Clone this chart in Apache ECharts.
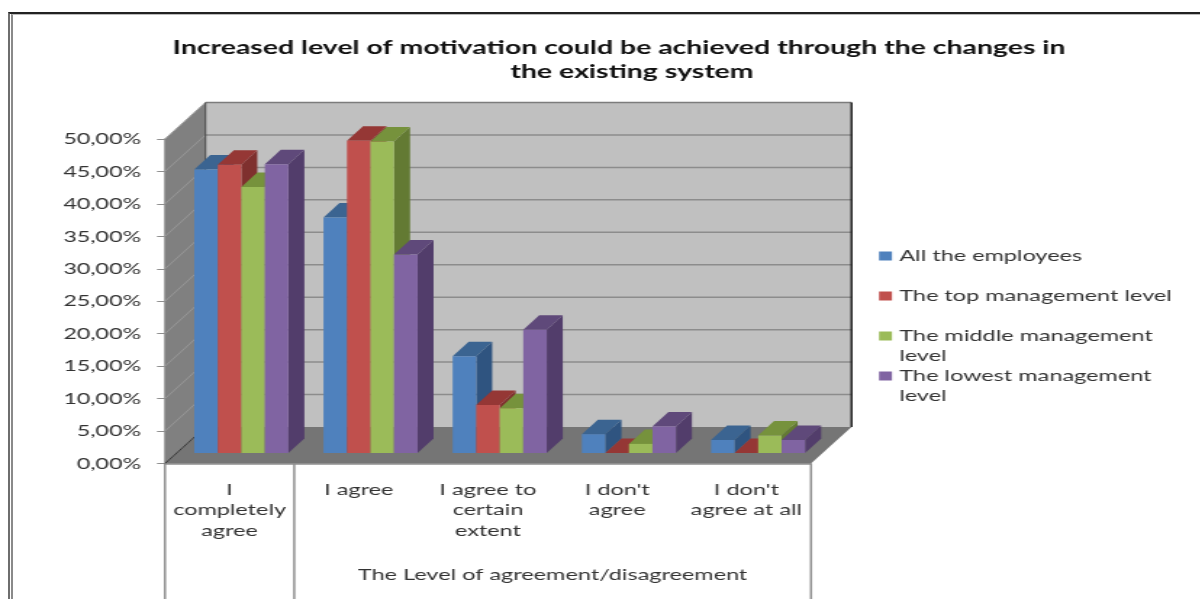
<!DOCTYPE html>
<html>
<head>
<meta charset="utf-8">
<title>Level of motivation</title>
<script src="https://cdn.jsdelivr.net/npm/echarts@6/dist/echarts.min.js"></script>
<style>
    html, body { margin: 0; height: 100%; background: #fff; overflow: hidden; }
    /* the source image is a horizontally stretched screenshot, so stretch the same way */
    #chart { position: absolute; left: 0; top: 0; height: 599px; transform-origin: 0 0; }
    .frame { position: absolute; left: 8px; top: 12px; width: 1300px; height: 700px; border-left: 2px solid #6e6e6e; border-top: 2px solid #222; }
    .frame-in { position: absolute; left: 11px; top: 14px; width: 1300px; height: 700px; border-left: 2px solid #8a8a8a; border-top: 1px solid #bbb; }
</style>
</head>
<body>
<div id="chart"></div>
<div class="frame"></div>
<div class="frame-in"></div>
<script>
const titleLines = [
    'Increased level of motivation could be achieved through the changes in',
    'the existing system'
]
const categories = ['I\ncompletely\nagree', 'I agree', 'I agree to\ncertain\nextent', "I don't\nagree", "I don't\nagree at all"]
const groupLabel = 'The Level of agreement/disagreement'
const seriesNames = ['All the employees', 'The top management level', 'The middle management\nlevel', 'The lowest management\nlevel']
const allEmployees = [43.7, 36.3, 14.9, 2.9, 2.0]
const topLevel = [44.4, 48.1, 7.4, 0.0, 0.0]
const middleLevel = [41.0, 48.0, 6.9, 1.4, 2.7]
const lowestLevel = [44.5, 30.6, 19.0, 4.1, 2.0]
const seriesValues = [allEmployees, topLevel, middleLevel, lowestLevel]
const yTicks = [0, 5, 10, 15, 20, 25, 30, 35, 40, 45, 50]

const frontColors = ['#4f81bd', '#c0504d', '#9bbb59', '#8064a2']
const topColors = ['#3b6491', '#953735', '#76923c', '#5f497a']
const sideColors = ['#2f5480', '#7f302e', '#637a33', '#523d6b']

// horizontal stretch of the whole picture
const S = 1.45
const sx = x => x / S

const chartDom = document.getElementById('chart')
chartDom.style.width = sx(1200) + 'px'
chartDom.style.transform = 'scaleX(' + S + ')'

const chart = echarts.init(chartDom)

const wallDx = sx(40.5), wallDy = -36.5
const frontDx = sx(11.7), frontDy = -10.5
const barDx = sx(16), barDy = -14.5
const BAR_RATIO = 0.182

const poly = (points, fill) => ({ type: 'polygon', shape: { points }, style: { fill } })
const seg = (a, b, stroke, lineWidth) => ({
    type: 'line',
    shape: { x1: a[0], y1: a[1], x2: b[0], y2: b[1] },
    style: { stroke, lineWidth }
})

// walls, floor, gridlines and the long separators below the axis
const renderBox = (params, api) => {
    const band = api.size([1, 0])[0]
    const xl = api.coord([0, 0])[0] - band / 2
    const xr = api.coord([categories.length - 1, 0])[0] + band / 2
    const y0 = api.coord([0, 0])[1]
    const yMax = api.coord([0, yTicks[yTicks.length - 1]])[1]

    const children = [
        poly([[xl + wallDx, yMax + wallDy], [xr + wallDx, yMax + wallDy], [xr + wallDx, y0 + wallDy], [xl + wallDx, y0 + wallDy]], '#c0c0c0'),
        poly([[xl, yMax], [xl + wallDx, yMax + wallDy], [xl + wallDx, y0 + wallDy], [xl, y0]], '#808080'),
        poly([[xl, y0], [xr, y0], [xr + wallDx, y0 + wallDy], [xl + wallDx, y0 + wallDy]], '#757575')
    ]
    yTicks.slice(1).forEach(v => {
        const y = api.coord([0, v])[1]
        const isTop = v === yTicks[yTicks.length - 1]
        children.push(seg([xl, y], [xl + wallDx, y + wallDy], '#989898', 1))
        children.push(seg([xl + wallDx, y + wallDy], [xr + wallDx, y + wallDy], isTop ? '#7c7c7c' : '#8c8c8c', 1.5))
    })
    children.push(seg([xl + wallDx, yMax + wallDy], [xl + wallDx, y0 + wallDy], '#444', 1))
    children.push(seg([xr + wallDx, yMax + wallDy], [xr + wallDx, y0 + wallDy], '#222', 1.5))
    children.push(seg([xl, y0], [xl + wallDx, y0 + wallDy], '#333', 1))

    // first group ends after the first category, second one after the last
    const xb = xl + band
    const yEnd = y0 + 140
    ;[xl, xb, xr].forEach(x => children.push(seg([x, y0], [x, yEnd], '#8e8e8e', 1.5)))
    children.push({
        type: 'text',
        style: {
            x: (xb + xr) / 2,
            y: 575,
            text: groupLabel,
            align: 'center',
            verticalAlign: 'middle',
            fill: '#333',
            font: '16.2px Lato'
        }
    })
    return { type: 'group', children }
}

const renderBar = i => (params, api) => {
    const cat = api.value(0)
    const band = api.size([1, 0])[0]
    const w = band * BAR_RATIO
    const top = api.coord([cat, api.value(1)])
    const base = api.coord([cat, 0])
    const x = top[0] - 2 * w + i * w + frontDx
    const yt = top[1] + frontDy
    const yb = base[1] + frontDy
    return {
        type: 'group',
        children: [
            poly([[x + w, yt], [x + w + barDx, yt + barDy], [x + w + barDx, yb + barDy], [x + w, yb]], sideColors[i]),
            poly([[x, yt], [x + barDx, yt + barDy], [x + w + barDx, yt + barDy], [x + w, yt]], topColors[i]),
            { type: 'rect', shape: { x, y: yt, width: w, height: yb - yt }, style: { fill: frontColors[i] } }
        ]
    }
}

const legendTops = [246, 286, 306, 346]

const option = {
    animation: false,
    textStyle: { fontFamily: 'Lato', color: '#333' },
    title: titleLines.map((text, i) => ({
        text,
        left: sx([619, 632][i]),
        top: [38, 62][i],
        textAlign: 'center',
        padding: 0,
        textStyle: { fontFamily: 'Lato', fontSize: 19.6, fontWeight: 'bold', color: '#111' }
    })),
    legend: seriesNames.map((name, i) => ({
        data: [name],
        orient: 'vertical',
        left: sx(879),
        top: legendTops[i],
        padding: 0,
        icon: 'rect',
        itemWidth: sx(13),
        itemHeight: 9,
        itemGap: 0,
        selectedMode: false,
        // blank first line keeps the icon level with the first line of wrapped names
        formatter: n => (n.includes('\n') ? '\n' + n : n),
        textStyle: { fontFamily: 'Lato', fontSize: 16.2, lineHeight: 20, color: '#333' }
    })),
    grid: { left: sx(165), top: 139, width: sx(646), height: 324.5 },
    xAxis: {
        type: 'category',
        data: categories,
        axisLine: { lineStyle: { color: '#8e8e8e', width: 1.5 } },
        axisTick: { length: 85, lineStyle: { color: '#8e8e8e', width: 1.5 } },
        axisLabel: { fontFamily: 'Lato', fontSize: 16.2, lineHeight: 20.5, color: '#333', margin: 16, interval: 0 }
    },
    yAxis: {
        type: 'value',
        min: 0,
        max: 50,
        interval: 5,
        splitLine: { show: false },
        axisLine: { show: true, lineStyle: { color: '#8e8e8e', width: 1.5 } },
        axisTick: { show: true, length: sx(8), lineStyle: { color: '#8e8e8e' } },
        axisLabel: {
            fontFamily: 'Lato',
            fontSize: 16,
            color: '#333',
            margin: sx(24),
            padding: [3, 0, 0, 0],
            formatter: v => v.toFixed(2).replace('.', ',') + '%'
        }
    },
    series: [
        {
            type: 'custom',
            silent: true,
            clip: false,
            z: 1,
            renderItem: renderBox,
            data: [[0, 0]],
            encode: { x: 0, y: 1 }
        },
        ...seriesNames.map((name, i) => ({
            name,
            type: 'custom',
            clip: false,
            z: 2 + i,
            itemStyle: { color: frontColors[i] },
            renderItem: renderBar(i),
            encode: { x: 0, y: 1 },
            data: seriesValues[i].map((v, c) => [c, v])
        }))
    ]
}

chart.setOption(option)
</script>
</body>
</html>
